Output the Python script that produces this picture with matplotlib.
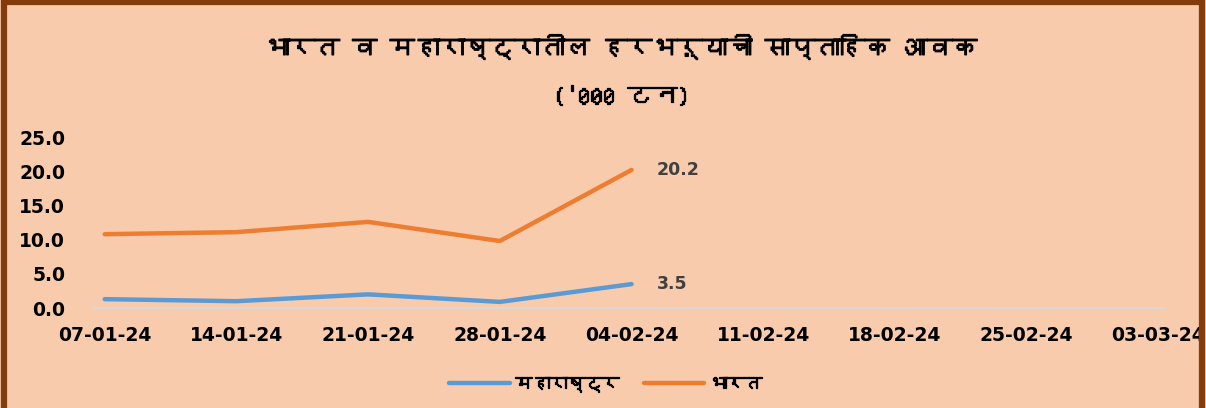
import matplotlib
matplotlib.use("Agg")
import matplotlib.pyplot as plt
import matplotlib.patheffects as pe
from matplotlib import font_manager, ft2font
from matplotlib.patches import Rectangle

# data
weeks = ['07-01-24', '14-01-24', '21-01-24', '28-01-24', '04-02-24',
         '11-02-24', '18-02-24', '25-02-24', '03-03-24']
maharashtra = [1.3, 1.0, 2.0, 0.9, 3.5]
bharat = [10.8, 11.1, 12.6, 9.8, 20.2]
yticks = [0, 5, 10, 15, 20, 25]

title1 = 'भारत व महाराष्ट्रातील हरभऱ्याची साप्ताहिक आवक'
title2 = "('000 टन)"
lab_mh = 'महाराष्ट्र'
lab_in = 'भारत'


def find_deva():
    # look for any installed font that has Devanagari glyphs
    for f in font_manager.fontManager.ttflist:
        try:
            ft = ft2font.FT2Font(f.fname)
            cmap = ft.get_charmap()
            if 0x092D in cmap and 0x0930 in cmap:
                return f.name
        except Exception:
            pass
    return None


deva = find_deva()
fams = [deva, 'DejaVu Sans'] if deva else ['DejaVu Sans']
plt.rcParams['font.family'] = fams
fake_bold = [pe.withStroke(linewidth=0.9, foreground='black')]

bg = '#F8CBAD'
fig = plt.figure(figsize=(12.06, 4.08), dpi=100, facecolor=bg)
ax = fig.add_axes([0.077, 0.245, 0.889, 0.419])
ax.set_facecolor(bg)

x = list(range(len(weeks)))
ax.plot(x[:len(maharashtra)], maharashtra, color='#5B9BD5', lw=3.2,
        solid_capstyle='round', label=lab_mh)
ax.plot(x[:len(bharat)], bharat, color='#ED7D31', lw=3.2,
        solid_capstyle='round', label=lab_in)

for series in (maharashtra, bharat):
    ax.annotate(f'{series[-1]:.1f}', (x[len(series) - 1], series[-1]),
                xytext=(18, 0), textcoords='offset points', va='center',
                fontsize=12.5, fontweight='bold', color='#404040', family='DejaVu Sans')

ax.set_xlim(-0.09, 8.05)
ax.set_ylim(0, 25)
ax.set_xticks(x)
ax.set_xticklabels(weeks)
ax.set_yticks(yticks)
ax.set_yticklabels([f'{v:.1f}' for v in yticks])
ax.tick_params(axis='both', length=0, labelsize=13.5)
ax.tick_params(axis='y', pad=20)
ax.tick_params(axis='x', pad=13)
for lbl in ax.get_xticklabels() + ax.get_yticklabels():
    lbl.set_fontweight('bold')
    lbl.set_family('DejaVu Sans')
for s in ['top', 'right', 'left']:
    ax.spines[s].set_visible(False)
ax.spines['bottom'].set_color('#D9D9D9')
ax.spines['bottom'].set_linewidth(1.2)

fig.text(0.515, 0.885, title1, ha='center', va='center', fontsize=18,
         fontweight='bold', path_effects=fake_bold)
fig.text(0.515, 0.765, title2, ha='center', va='center', fontsize=18,
         fontweight='bold', path_effects=fake_bold)

leg = fig.legend(loc='center', bbox_to_anchor=(0.502, 0.058), ncol=2, frameon=False,
                 handlelength=3.5, handletextpad=0.3, columnspacing=1.4,
                 prop={'size': 12.5, 'weight': 'bold'})
for t in leg.get_texts():
    t.set_path_effects(fake_bold)

# brown frame
fig.patches.append(Rectangle((0.003, -0.1), 0.994, 1.095, transform=fig.transFigure,
                             fill=False, edgecolor='#843C0C', lw=4.5))

fig.savefig('out.png', dpi=100, facecolor=bg)
